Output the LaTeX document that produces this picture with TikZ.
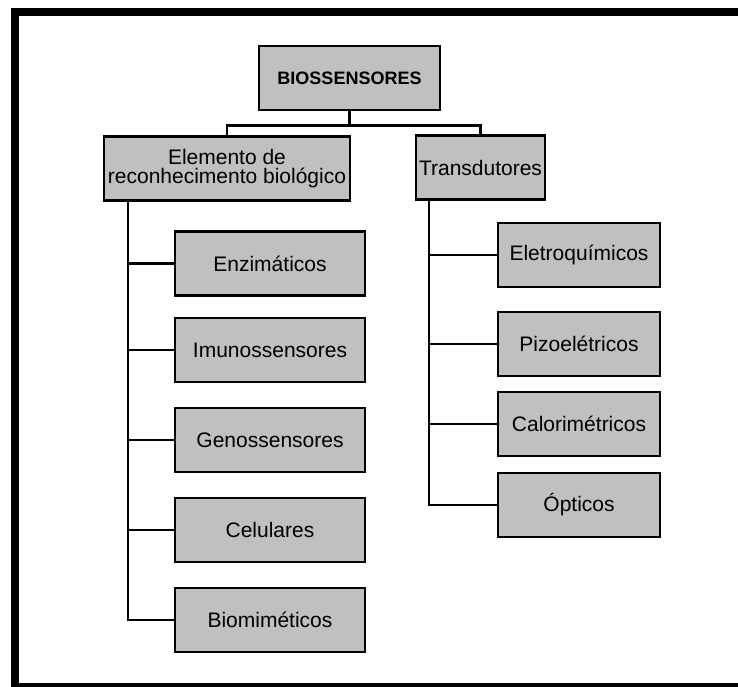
\documentclass[tikz,border=0pt]{standalone}
\usepackage{fontspec}
\setmainfont{Liberation Sans}
\usepackage{tikz}
\definecolor{cinza}{RGB}{192,192,192}
\tikzset{
  caixa/.style={draw,line width=1.3pt,fill=cinza,inner sep=0pt,minimum height=32pt,
    font=\fontsize{10.5}{9.5}\selectfont},
  liga/.style={line width=1.3pt}
}

\begin{document}
\begin{tikzpicture}[x=0.5pt,y=-0.5pt]
  \useasboundingbox (0,0) rectangle (738,686);
  \clip (0,0) rectangle (738,686);
  \def\xesq{270}  % centro da coluna da esquerda
  \def\xdir{579}  % centro da coluna da direita
  \draw[line width=4pt] (15,12) rectangle (760,687); % moldura (cortada à direita)
  % topo da árvore
  \node[caixa,minimum width=90.5pt,font=\fontsize{9}{9}\selectfont\bfseries] (bio) at (349.5,78) {BIOSSENSORES};
  \node[caixa,minimum width=123pt,align=center] (elem) at (227,168.5) {Elemento de\\reconhecimento biológico};
  \node[caixa,minimum width=64.5pt] (trans) at (480.5,167.5) {Transdutores};
  \draw[liga] (bio.south) -- ++(0,14) -| (elem.north);
  \draw[liga] (bio.south) -- ++(0,14) -| (trans.north);
  % elementos biológicos
  \node[caixa,minimum width=95pt] (enz) at (\xesq,263.5) {Enzimáticos};
  \node[caixa,minimum width=95pt] (imuno) at (\xesq,350) {Imunossensores};
  \node[caixa,minimum width=95pt] (geno) at (\xesq,440) {Genossensores};
  \node[caixa,minimum width=95pt] (cel) at (\xesq,530) {Celulares};
  \node[caixa,minimum width=95pt] (biomim) at (\xesq,620) {Biomiméticos};
  \coordinate (eixoesq) at (128,200); % linha vertical que sai de elem
  \draw[liga] (eixoesq) |- (biomim.west);
  \foreach \n in {enz,imuno,geno,cel}
    \draw[liga] (\n.west) -- (\n.west -| eixoesq);
  % transdutores
  \node[caixa,minimum width=81pt] (eletro) at (\xdir,255) {Eletroquímicos};
  \node[caixa,minimum width=81pt] (piezo) at (\xdir,344) {Pizoelétricos};
  \node[caixa,minimum width=81pt] (calor) at (\xdir,424) {Calorimétricos};
  \node[caixa,minimum width=81pt] (opt) at (\xdir,505) {Ópticos};
  \coordinate (eixodir) at (429,200); % linha vertical que sai de trans
  \draw[liga] (eixodir) |- (opt.west);
  \foreach \n in {eletro,piezo,calor}
    \draw[liga] (\n.west) -- (\n.west -| eixodir);
\end{tikzpicture}
\end{document}
